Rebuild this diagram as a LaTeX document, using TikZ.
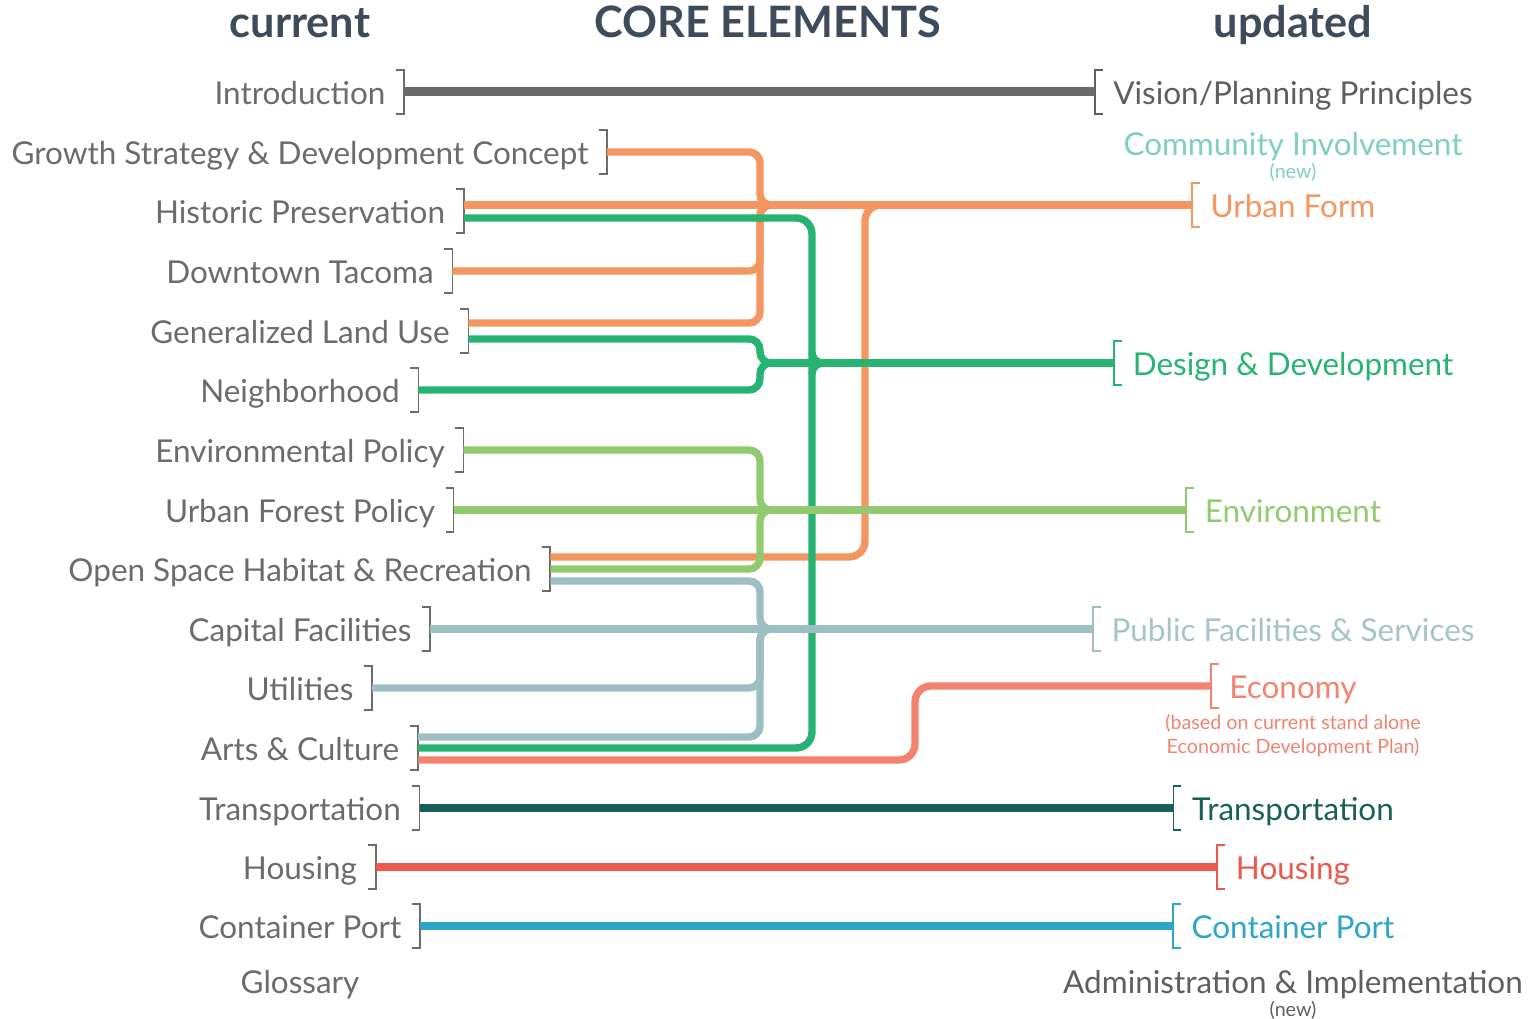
\documentclass[tikz,border=0pt]{standalone}
\usepackage{fontspec}
\setmainfont{Lato}
\usetikzlibrary{calc}

\definecolor{curgray}{HTML}{6B6B6B}
\definecolor{headblue}{HTML}{3E4B5B}
\definecolor{introline}{HTML}{6A6A6A}
\definecolor{vgray}{HTML}{5E5E5E}
\definecolor{orng}{HTML}{F4965F}
\definecolor{grn}{HTML}{27B473}
\definecolor{lgrn}{HTML}{92CB6F}
\definecolor{sgray}{HTML}{9DBEC2}
\definecolor{stext}{HTML}{A4C4C8}
\definecolor{salm}{HTML}{F2836F}
\definecolor{dteal}{HTML}{185F59}
\definecolor{hred}{HTML}{EB594D}
\definecolor{pblue}{HTML}{2CA5C9}
\definecolor{cteal}{HTML}{7ECFC2}

\tikzset{
  head/.style={font=\fontsize{12.3}{14}\selectfont\bfseries, text=headblue, inner sep=0pt, anchor=base},
  cur/.style={font=\fontsize{8.95}{10}\selectfont, text=curgray, inner sep=0pt, text height=0.72em, text depth=0pt},
  upd/.style={font=\fontsize{8.95}{10}\selectfont, inner sep=0pt, text height=0.72em, text depth=0pt},
  note/.style={font=\fontsize{5.6}{6.8}\selectfont, inner sep=0pt, align=center},
  brk/.style={line width=0.017cm},
  lnk/.style={line width=0.074cm, rounded corners=0.11cm},
  wide/.style={rounded corners=0.16cm}
}

% closing bracket after a current chapter
\newcommand{\closebrk}[3]{%
  \coordinate (#2) at ($(#1.east)+(18,0)$);
  \draw[brk,#3] ($(#2)+(-8,-22)$) -- ++(8,0) -- ++(0,44) -- ++(-8,0);
}
% opening bracket before an updated element
\newcommand{\openbrk}[3]{%
  \coordinate (#2) at ($(#1.west)+(-18,0)$);
  \draw[brk,#3] ($(#2)+(8,-22)$) -- ++(-8,0) -- ++(0,44) -- ++(8,0);
}

\begin{document}
\begin{tikzpicture}[x=0.01cm, y=-0.01cm]
  \useasboundingbox (0,0) rectangle (1532,1019);

  % headings
  \node[head] (h-cur) at (300,38) {current};
  \node[head] (h-core) at (768,38) {CORE ELEMENTS};
  \node[head] (h-upd) at (1293,38) {updated};

  % current chapters
  \foreach \nm/\txt/\yy in {
    intro/Introduction/92,
    growth/Growth Strategy \& Development Concept/152,
    hist/Historic Preservation/211,
    down/Downtown Tacoma/271,
    glu/Generalized Land Use/331,
    nbhd/Neighborhood/390,
    env/Environmental Policy/450,
    forest/Urban Forest Policy/510,
    open/Open Space Habitat \& Recreation/569,
    cap/Capital Facilities/629,
    util/Utilities/688,
    arts/Arts \& Culture/748,
    trans/Transportation/808,
    hous/Housing/867,
    port/Container Port/926}
  {
    \node[cur] (\nm) at (300,\yy) {\txt};
    \closebrk{\nm}{\nm-b}{curgray}
  }
  \node[cur] (gloss) at (300,981) {Glossary};

  % updated elements
  \node[upd, text=vgray] (vision) at (1293,92) {Vision/Planning Principles};
  \openbrk{vision}{vision-b}{vgray}
  \node[upd, text=cteal] (comm) at (1293,143) {Community Involvement};
  \node[note, text=cteal] (comm-new) at (1293,172) {(new)};
  \node[upd, text=orng] (uform) at (1293,205) {Urban Form};
  \openbrk{uform}{uform-b}{orng}
  \node[upd, text=grn] (design) at (1293,363) {Design \& Development};
  \openbrk{design}{design-b}{grn}
  \node[upd, text=lgrn] (envr) at (1293,510) {Environment};
  \openbrk{envr}{envr-b}{lgrn}
  \node[upd, text=stext] (pub) at (1293,629) {Public Facilities \& Services};
  \openbrk{pub}{pub-b}{sgray}
  \node[upd, text=salm] (econ) at (1293,686) {Economy};
  \openbrk{econ}{econ-b}{salm}
  \node[note, text=salm] (econ-note) at (1293,736) {(based on current stand alone\\Economic Development Plan)};
  \node[upd, text=dteal] (transr) at (1293,808) {Transportation};
  \openbrk{transr}{transr-b}{dteal}
  \node[upd, text=hred] (housr) at (1293,867) {Housing};
  \openbrk{housr}{housr-b}{hred}
  \node[upd, text=pblue] (portr) at (1293,926) {Container Port};
  \openbrk{portr}{portr-b}{pblue}
  \node[upd, text=vgray] (admin) at (1293,981) {Administration \& Implementation};
  \node[note, text=vgray] (admin-new) at (1293,1010) {(new)};

  % vertical buses
  \coordinate (busA) at (760,0);
  \coordinate (busB) at (812,0);
  \coordinate (busC) at (865,0);
  \coordinate (busD) at (915,0);

  % line offsets where a chapter feeds several elements
  \coordinate (glu-o) at ($(glu-b)+(0,-8)$);
  \coordinate (glu-g) at ($(glu-b)+(0,8)$);
  \coordinate (hist-g) at ($(hist-b)+(0,7)$);
  \coordinate (open-o) at ($(open-b)+(0,-12)$);
  \coordinate (open-s) at ($(open-b)+(0,12)$);
  \coordinate (arts-s) at ($(arts-b)+(0,-11)$);
  \coordinate (arts-e) at ($(arts-b)+(0,12)$);

  \draw[lnk, introline, line width=0.09cm] (intro-b) -- (vision-b);

  % urban form
  \draw[lnk, orng, wide] (open-o) -- (busC |- open-o) -- (busC |- uform-b) -- ++(30,0);
  \draw[lnk, orng] (growth-b) -- (busA |- growth-b) -- (busA |- uform-b) -- ++(11,0);
  \draw[lnk, orng] (down-b) -- (busA |- down-b) -- (busA |- uform-b) -- ++(11,0);
  \draw[lnk, orng] (glu-o) -- (busA |- glu-o) -- (busA |- uform-b) -- ++(11,0);
  \draw[lnk, orng] (hist-b |- uform-b) -- (uform-b);

  % design & development
  \draw[lnk, grn, wide] (hist-g) -- (busB |- hist-g) -- (busB |- arts-b) -- (arts-b);
  \draw[lnk, grn] ($(busB |- design-b)+(0,-11)$) -- (busB |- design-b) -- ++(11,0);
  \draw[lnk, grn] ($(busB |- design-b)+(0,11)$) -- (busB |- design-b) -- ++(11,0);
  \draw[lnk, grn] (glu-g) -- (busA |- glu-g) -- (busA |- design-b) -- ++(11,0);
  \draw[lnk, grn] (nbhd-b) -- (busA |- nbhd-b) -- (busA |- design-b) -- ++(11,0);
  \draw[lnk, grn] ($(busA |- design-b)+(11,0)$) -- (design-b);

  % environment
  \draw[lnk, lgrn] (env-b) -- (busA |- env-b) -- (busA |- forest-b) -- ++(11,0);
  \draw[lnk, lgrn] (open-b) -- (busA |- open-b) -- (busA |- forest-b) -- ++(11,0);
  \draw[lnk, lgrn] (forest-b) -- (envr-b);

  % public facilities & services
  \draw[lnk, sgray] (open-s) -- (busA |- open-s) -- (busA |- cap-b) -- ++(11,0);
  \draw[lnk, sgray] (util-b) -- (busA |- util-b) -- (busA |- cap-b) -- ++(11,0);
  \draw[lnk, sgray] (arts-s) -- (busA |- arts-s) -- (busA |- cap-b) -- ++(11,0);
  \draw[lnk, sgray] (cap-b) -- (pub-b);

  % economy
  \draw[lnk, salm, wide] (arts-e) -- (busD |- arts-e) -- (busD |- econ-b) -- (econ-b);

  \draw[lnk, dteal] (trans-b) -- (transr-b);
  \draw[lnk, hred] (hous-b) -- (housr-b);
  \draw[lnk, pblue] (port-b) -- (portr-b);
\end{tikzpicture}
\end{document}
